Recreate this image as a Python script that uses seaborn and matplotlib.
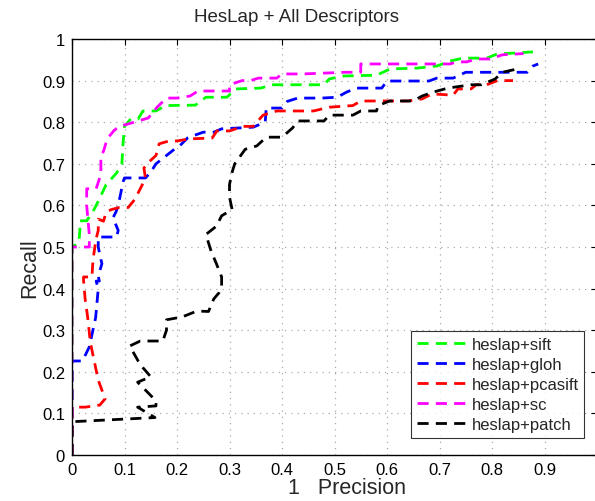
import matplotlib
matplotlib.use("Agg")
import matplotlib.pyplot as plt
import seaborn as sns
import pandas as pd

# Recall vs. 1-Precision for each descriptor on Hessian-Laplace regions
sift_x = [0, 0, 0.013, 0.015, 0.015, 0.028, 0.04, 0.052, 0.065, 0.085, 0.095, 0.097, 0.1, 0.112, 0.126,
          0.135, 0.16, 0.178, 0.235, 0.255, 0.295, 0.312, 0.36, 0.38, 0.48, 0.49, 0.516, 0.58, 0.606,
          0.657, 0.695, 0.72, 0.745, 0.79, 0.81, 0.84, 0.878]
sift_y = [0, 0.5, 0.51, 0.54, 0.563, 0.563, 0.585, 0.615, 0.65, 0.678, 0.70, 0.745, 0.79, 0.808, 0.808,
          0.827, 0.827, 0.84, 0.841, 0.86, 0.86, 0.88, 0.882, 0.89, 0.89, 0.904, 0.911, 0.913, 0.928,
          0.93, 0.935, 0.947, 0.954, 0.954, 0.964, 0.966, 0.969]

gloh_x = [0, 0, 0.02, 0.033, 0.045, 0.05, 0.046, 0.052, 0.05, 0.057, 0.055, 0.05, 0.05, 0.085, 0.088,
          0.078, 0.084, 0.088, 0.093, 0.097, 0.1, 0.14, 0.15, 0.16, 0.175, 0.195, 0.205, 0.22, 0.23,
          0.25, 0.27, 0.285, 0.345, 0.368, 0.37, 0.40, 0.41, 0.43, 0.476, 0.505, 0.524, 0.543, 0.59,
          0.6, 0.68, 0.695, 0.726, 0.75, 0.867, 0.878, 0.888]
gloh_y = [0, 0.226, 0.226, 0.26, 0.33, 0.40, 0.418, 0.418, 0.43, 0.46, 0.47, 0.5, 0.524, 0.524, 0.54,
          0.57, 0.585, 0.6, 0.63, 0.656, 0.666, 0.666, 0.68, 0.70, 0.715, 0.735, 0.743, 0.762, 0.767,
          0.776, 0.776, 0.784, 0.788, 0.80, 0.834, 0.834, 0.85, 0.858, 0.858, 0.86, 0.873, 0.882, 0.882,
          0.899, 0.899, 0.906, 0.906, 0.92, 0.92, 0.935, 0.94]

pcasift_x = [0, 0, 0.025, 0.053, 0.063, 0.05, 0.04, 0.035, 0.03, 0.025, 0.022, 0.022, 0.038, 0.04,
             0.046, 0.05, 0.05, 0.06, 0.065, 0.075, 0.09, 0.107, 0.12, 0.13, 0.14, 0.137, 0.147, 0.16,
             0.166, 0.185, 0.2, 0.225, 0.267, 0.276, 0.30, 0.326, 0.345, 0.352, 0.364, 0.39, 0.46,
             0.49, 0.535, 0.55, 0.64, 0.667, 0.686, 0.726, 0.735, 0.76, 0.77, 0.79, 0.81, 0.84]
pcasift_y = [0, 0.115, 0.115, 0.12, 0.135, 0.18, 0.24, 0.27, 0.33, 0.375, 0.42, 0.428, 0.428, 0.47,
             0.52, 0.54, 0.567, 0.562, 0.584, 0.59, 0.595, 0.595, 0.615, 0.64, 0.665, 0.69, 0.705, 0.72,
             0.748, 0.755, 0.755, 0.76, 0.762, 0.779, 0.779, 0.79, 0.79, 0.80, 0.817, 0.827, 0.827,
             0.836, 0.84, 0.851, 0.851, 0.856, 0.868, 0.865, 0.88, 0.88, 0.89, 0.89, 0.90, 0.90]

sc_x = [0, 0, 0.033, 0.033, 0.03, 0.028, 0.028, 0.046, 0.055, 0.055, 0.06, 0.067, 0.08, 0.09, 0.105,
        0.126, 0.145, 0.152, 0.162, 0.18, 0.2, 0.225, 0.24, 0.3, 0.3, 0.324, 0.34, 0.355, 0.39, 0.4,
        0.44, 0.52, 0.55, 0.55, 0.72, 0.733, 0.752, 0.77, 0.796, 0.82, 0.86]
sc_y = [0, 0.5, 0.5, 0.53, 0.57, 0.6, 0.64, 0.64, 0.675, 0.72, 0.73, 0.76, 0.78, 0.79, 0.795,
        0.803, 0.81, 0.82, 0.836, 0.858, 0.858, 0.863, 0.875, 0.875, 0.89, 0.9, 0.9, 0.906, 0.906, 0.916,
        0.916, 0.92, 0.92, 0.94, 0.94, 0.945, 0.945, 0.952, 0.952, 0.962, 0.965]

patch_x = [0, 0, 0.158, 0.125, 0.16, 0.16, 0.147, 0.125, 0.15, 0.135, 0.126, 0.11, 0.13, 0.173,
           0.18, 0.18, 0.21, 0.238, 0.26, 0.27, 0.28, 0.285, 0.285, 0.275, 0.265, 0.255, 0.275, 0.285,
           0.305, 0.3, 0.3, 0.305, 0.31, 0.33, 0.352, 0.37, 0.40, 0.42, 0.43, 0.48, 0.49, 0.535, 0.55,
           0.58, 0.583, 0.605, 0.65, 0.667, 0.687, 0.716, 0.76, 0.78, 0.806, 0.82, 0.855]
patch_y = [0, 0.08, 0.09, 0.115, 0.118, 0.13, 0.147, 0.175, 0.188, 0.21, 0.226, 0.262, 0.274, 0.274,
           0.30, 0.325, 0.332, 0.346, 0.345, 0.375, 0.39, 0.404, 0.428, 0.46, 0.49, 0.53, 0.55, 0.575,
           0.59, 0.62, 0.65, 0.68, 0.70, 0.735, 0.743, 0.764, 0.764, 0.786, 0.803, 0.803, 0.817, 0.817,
           0.827, 0.827, 0.84, 0.851, 0.851, 0.863, 0.872, 0.882, 0.89, 0.89, 0.904, 0.92, 0.93]

labels = ["heslap+sift", "heslap+gloh", "heslap+pcasift", "heslap+sc", "heslap+patch"]
colors = ["#00ff00", "#0000ff", "#ff0000", "#ff00ff", "#000000"]

series = [(sift_x, sift_y), (gloh_x, gloh_y), (pcasift_x, pcasift_y), (sc_x, sc_y), (patch_x, patch_y)]
frames = []
for lab, (xs, ys) in zip(labels, series):
    frames.append(pd.DataFrame({"fp": xs, "recall": ys, "descriptor": lab, "step": range(len(xs))}))
df = pd.concat(frames, ignore_index=True)

sns.set_style("white")
plt.rcParams["font.family"] = ["Liberation Sans", "DejaVu Sans"]

fig = plt.figure(figsize=(5.95, 5.02), dpi=100)
ax = fig.add_axes([72 / 595, 1 - 456 / 502, 525 / 595, 416 / 502])

sns.lineplot(data=df, x="fp", y="recall", hue="descriptor", hue_order=labels,
             palette=dict(zip(labels, colors)), style="descriptor", style_order=labels,
             dashes={lab: (4, 2.6) for lab in labels}, sort=False, estimator=None,
             linewidth=2.0, ax=ax, legend=True)

ax.set_xlim(0, 1)
ax.set_ylim(0, 1)
xt = [i / 10 for i in range(11)]
ax.set_xticks(xt)
ax.set_yticks(xt)
ax.set_xticklabels(["0"] + [f"{v:.1f}" for v in xt[1:-1]] + [""])
ax.set_yticklabels(["0"] + [f"{v:.1f}" for v in xt[1:-1]] + ["1"])
ax.tick_params(direction="in", length=4, width=0.8, top=True, right=True,
               labelsize=12, pad=5, colors="black")
ax.grid(True, linestyle=(0, (1, 4)), color="#aaaaaa", linewidth=0.9)
for s in ax.spines.values():
    s.set_color("black")
    s.set_linewidth(1.0)

# Title and labels placed in figure / axes coordinates
fig.text(297 / 595, 1 - 17 / 502, "HesLap + All Descriptors", fontsize=13.5,
         ha="center", va="center")
ax.set_xlabel("1   Precision", fontsize=15.5)
ax.xaxis.set_label_coords((347 - 72) / 525, -(489 - 456) / 416)
ax.xaxis.label.set_va("center")
ax.set_ylabel("Recall", fontsize=15.5)
ax.yaxis.set_label_coords(-(72 - 30) / 525, (456 - 268) / 416)
ax.yaxis.label.set_va("center")

leg = ax.legend(loc="lower right", bbox_to_anchor=(0.992, 0.022), fontsize=12,
                frameon=True, fancybox=False, edgecolor="black", handlelength=2.9,
                borderpad=0.35, labelspacing=0.3, handletextpad=0.4)
leg.get_frame().set_linewidth(0.8)

fig.savefig("out.png", dpi=100)
